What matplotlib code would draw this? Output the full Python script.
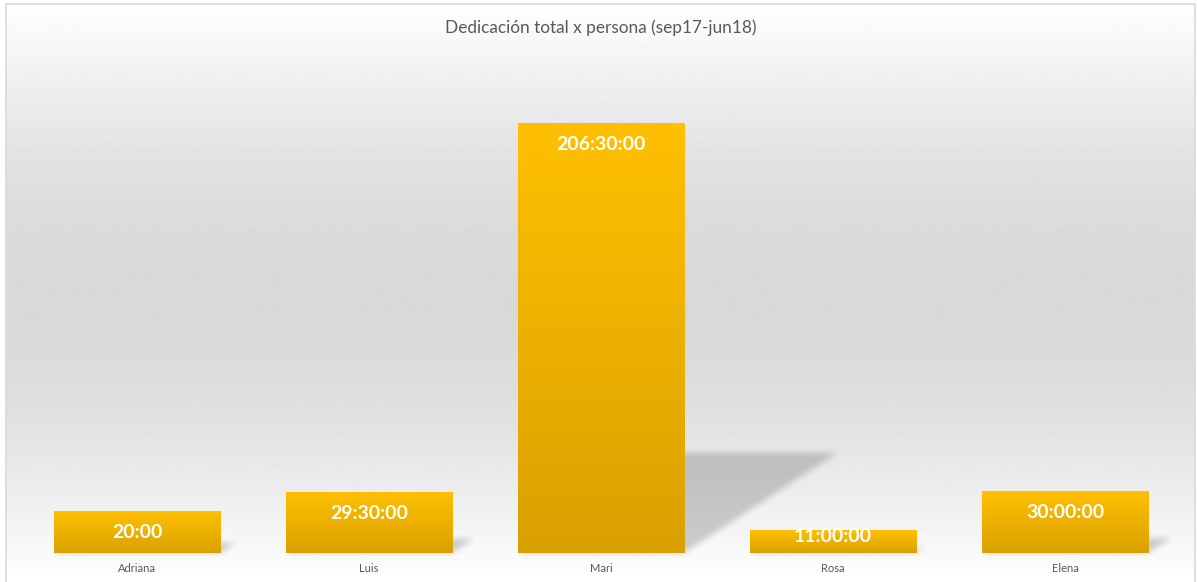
import numpy as np
import matplotlib
matplotlib.use("Agg")
import matplotlib.pyplot as plt
from matplotlib.patches import Rectangle
from matplotlib.path import Path
from matplotlib.colors import LinearSegmentedColormap

# ---- data ----
names = ["Adriana", "Luis", "Mari", "Rosa", "Elena"]
hours = [20.0, 29.5, 206.5, 11.0, 30.0]
labels = ["20:00", "29:30:00", "206:30:00", "11:00:00", "30:00:00"]
title = "Dedicación total x persona (sep17-jun18)"

W, H = 1197, 582
fig = plt.figure(figsize=(W / 100, H / 100), dpi=100)
plt.rcParams['font.family'] = ['Lato', 'DejaVu Sans']

# background gradient (white -> gray -> white)
bg = fig.add_axes([0, 0, 1, 1], zorder=0)
bg.set_xlim(0, W); bg.set_ylim(0, H); bg.axis('off')
g = np.linspace(0, 1, 300)
vals = 1 - 0.15 * np.sin(np.pi * g)
grad = np.tile(vals[:, None], (1, 2))
bg.imshow(grad, extent=[6, 1195, 0, H - 4], origin='upper', cmap='gray', vmin=0, vmax=1,
          aspect='auto', interpolation='bilinear')
bg.add_patch(Rectangle((6, -5), 1189, H - 4 + 5, fill=False, edgecolor='#d9d9d9', lw=1.2))

# main axes
ax = fig.add_axes([21 / W, 29 / H, 1160 / W, 500 / H], zorder=1)
ax.set_xlim(-0.5, len(names) - 0.5)
ax.set_ylim(0, 240)
ax.patch.set_alpha(0)
for s in ax.spines.values():
    s.set_visible(False)
ax.set_yticks([])
ax.set_xticks(range(len(names)))
ax.set_xticklabels(names, fontsize=8, color='#595959')
ax.tick_params(axis='x', length=0, pad=7.5)

bw = 0.716
fig.canvas.draw()
T = ax.transData

# blurred perspective shadows, rasterized in pixel space
yy, xx = np.mgrid[0:H, 0:W]
pix = np.column_stack([xx.ravel() + 0.5, yy.ravel() + 0.5])
mask = np.zeros(H * W)
for i, v in enumerate(hours):
    x0, x1 = i - bw / 2, i + bw / 2
    p00 = T.transform((x0, 0)); p10 = T.transform((x1, 0))
    hpx = T.transform((x0, v))[1] - p00[1]
    dx, dy = 0.356 * hpx, 0.233 * hpx
    poly = Path([p00, p10, (p10[0] + dx, p10[1] + dy), (p00[0] + dx, p00[1] + dy), p00])
    mask = np.maximum(mask, poly.contains_points(pix).astype(float))
mask = mask.reshape(H, W)

def box_blur(a, r):
    k = np.ones(2 * r + 1) / (2 * r + 1)
    a = np.apply_along_axis(lambda m: np.convolve(m, k, mode='same'), 0, a)
    a = np.apply_along_axis(lambda m: np.convolve(m, k, mode='same'), 1, a)
    return a

mask = box_blur(box_blur(mask, 3), 3)
rgba = np.zeros((H, W, 4))
rgba[..., 3] = mask * 0.18
bg.imshow(rgba, extent=[0, W, 0, H], origin='lower', aspect='auto',
          interpolation='nearest', zorder=1)
bg.set_xlim(0, W); bg.set_ylim(0, H)

# bars with gradient
cmap = LinearSegmentedColormap.from_list('gold', ['#D9A100', '#FFC000'])
bars = ax.bar(range(len(names)), hours, width=bw, color='none', zorder=2)
for b in bars:
    x, y0, w, h = b.get_x(), b.get_y(), b.get_width(), b.get_height()
    im = ax.imshow(np.linspace(0, 1, 100)[:, None], extent=[x, x + w, y0, y0 + h],
                   origin='lower', cmap=cmap, aspect='auto', zorder=2,
                   interpolation='bilinear')
    im.set_clip_path(b)

ax.set_xlim(-0.5, len(names) - 0.5)
ax.set_ylim(0, 240)

# data labels
for i, (v, lab) in enumerate(zip(hours, labels)):
    hpx = T.transform((i, v))[1] - T.transform((i, 0))[1]
    off = -min(21.5, hpx - 17)
    ax.annotate(lab, (i, v), xytext=(0, off * 72 / 100), textcoords='offset points',
                ha='center', va='center', color='white', fontsize=14,
                fontweight='bold', zorder=3)

fig.text(601 / W, 1 - 28 / H, title, ha='center', va='center', fontsize=12.4,
         color='#595959')

fig.savefig('out.png', dpi=100)
